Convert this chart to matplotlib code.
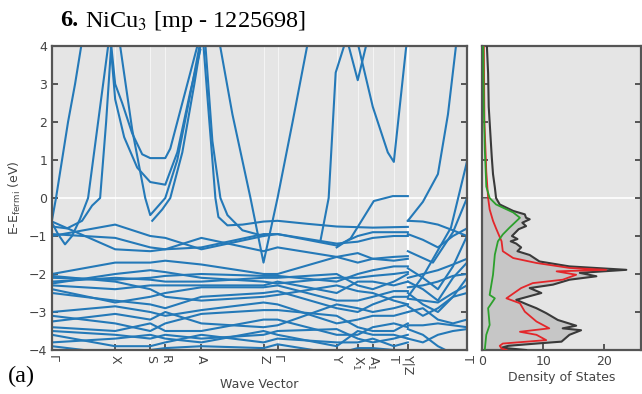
import numpy as np
import matplotlib
matplotlib.use('Agg')
import matplotlib.pyplot as plt

# high symmetry points along the k-path (path distance)
kpts = [0, 63, 98, 113, 149, 211, 225, 284, 305, 320, 341, 355, 414]
klabels = ['Γ', 'X', 'S', 'R', 'A', 'Z', 'Γ', 'Y', 'X$_1$', 'A$_1$', 'T', 'Y|Z', 'T']
kbreak = 355

# steep / upper bands, (k, E) pairs
upper_bands = [
    ([0, 4, 10, 16, 23, 31], [-0.58, 0, 1, 2, 3, 4.3]),
    ([0, 6, 13, 20, 28, 36, 46, 56, 60], [-0.65, -0.95, -1.22, -1.0, -0.55, 0, 2, 4, 4.6]),
    ([0, 15, 30, 40, 48, 54, 59, 62], [-0.75, -0.8, -0.6, -0.2, 0, 2, 4, 4.6]),
    ([64, 68, 80, 93, 98, 113, 125, 140, 150], [4.6, 4, 1.8, 0, -0.45, 0, 1.0, 3.0, 4.4]),
    ([58, 63, 70, 80, 90, 98, 113, 118, 130, 140, 148], [4.3, 3.0, 2.5, 1.7, 1.15, 1.05, 1.05, 1.3, 2.5, 3.5, 4.3]),
    ([57, 63, 72, 85, 98, 113, 125, 138, 148], [4.5, 2.6, 1.6, 0.8, 0.42, 0.35, 1.2, 2.8, 3.9]),
    ([100, 110, 118, 130, 142, 150], [-0.6, -0.3, 0, 1.2, 3.0, 4.3]),
    ([150, 157, 163, 166, 175, 190, 211, 225, 255, 284, 320, 355],
     [4.4, 2.0, 0, -0.5, -0.72, -0.7, -0.62, -0.6, -0.68, -0.75, -0.78, -0.76]),
    ([152, 160, 168, 175, 190, 211], [4.4, 1.5, 0, -0.45, -0.85, -1.0]),
    ([165, 180, 198, 211, 225, 240, 256], [4.4, 2.2, 0, -1.7, 0, 2, 4.2]),
    ([268, 276, 283, 295], [-1.1, 0, 3.3, 4.3]),
    ([293, 305, 316], [4.3, 3.1, 4.3]),
    ([303, 320, 335, 341, 353, 355], [4.3, 2.4, 1.2, 0.95, 3.9, 4.3]),
    ([284, 298, 321, 340, 355], [-1.3, -1.06, -0.08, 0.05, 0.05]),
    ([355, 370, 385, 395, 403], [-0.6, -0.1, 0.63, 2.2, 4.0]),
    ([355, 371, 398, 414], [-2.6, -2.02, -0.78, 0.96]),
    ([355, 380, 400, 414], [-1.4, -1.7, -0.9, 0.0]),
]

# valence bands at the high symmetry points, left part (Γ ... Y|Z)
kval_left = kpts[:12]
val_left = [
    [-0.62, -1.35, -1.4, -1.35, -1.3, -0.95, -0.95, -1.2, -1.15, -1.05, -1.0, -1.0],
    [-0.95, -1.05, -1.3, -1.35, -1.05, -1.4, -1.3, -1.55, -1.7, -1.6, -1.55, -1.53],
    [-1.0, -0.7, -1.0, -1.05, -1.35, -1.0, -0.95, -1.25, -1.0, -0.9, -0.9, -0.9],
    [-2.0, -1.7, -1.7, -1.65, -1.75, -2.0, -2.0, -1.55, -1.45, -1.6, -1.65, -1.6],
    [-2.05, -2.2, -2.4, -2.6, -2.7, -2.6, -2.55, -2.3, -2.45, -2.5, -2.7, -2.8],
    [-2.1, -2.15, -2.1, -2.05, -2.0, -2.05, -2.05, -2.2, -2.0, -1.9, -1.8, -1.8],
    [-2.2, -2.1, -2.15, -2.2, -2.2, -2.1, -2.1, -2.0, -2.3, -2.4, -2.2, -2.0],
    [-2.25, -2.0, -1.9, -1.95, -2.1, -2.2, -2.25, -2.1, -2.1, -2.05, -2.0, -1.95],
    [-2.3, -2.4, -2.3, -2.3, -2.3, -2.3, -2.2, -2.5, -2.2, -2.2, -2.3, -2.2],
    [-2.4, -2.75, -2.6, -2.5, -2.35, -2.35, -2.3, -2.7, -2.7, -2.6, -2.45, -2.45],
    [-2.5, -2.7, -2.8, -2.9, -2.6, -2.5, -2.45, -2.9, -3.0, -2.8, -2.6, -2.6],
    [-3.0, -2.85, -3.0, -3.1, -2.95, -2.75, -2.8, -3.3, -3.2, -3.1, -3.1, -3.0],
    [-3.1, -3.3, -3.5, -3.3, -3.05, -2.95, -2.95, -3.1, -3.4, -3.5, -3.5, -3.3],
    [-3.25, -3.05, -3.2, -3.0, -3.3, -3.4, -3.35, -2.8, -2.9, -3.0, -2.9, -2.8],
    [-3.4, -3.5, -3.3, -3.5, -3.5, -3.2, -3.2, -3.6, -3.6, -3.4, -3.3, -3.4],
    [-3.5, -3.6, -3.7, -3.6, -3.7, -3.6, -3.5, -3.45, -3.7, -3.8, -3.7, -3.6],
    [-3.6, -3.9, -3.9, -3.8, -3.6, -3.8, -3.7, -3.8, -3.8, -3.7, -3.9, -3.8],
    [-3.8, -3.7, -3.6, -3.7, -3.8, -3.5, -3.6, -3.9, -3.5, -3.6, -3.6, -3.7],
    [-3.9, -4.1, -4.0, -3.95, -3.9, -3.95, -3.85, -4.1, -3.95, -3.95, -4.0, -4.0],
]

# valence bands, right part (Z ... T)
kval_right = [355, 370, 385, 400, 414]
val_right = [
    [-0.6, -0.62, -0.7, -0.85, -1.0],
    [-0.95, -1.1, -1.3, -1.0, -0.8],
    [-1.85, -2.1, -2.4, -1.8, -1.0],
    [-2.1, -2.0, -1.9, -1.75, -1.6],
    [-2.2, -2.4, -2.7, -2.1, -1.7],
    [-2.35, -2.3, -2.2, -2.05, -2.0],
    [-2.5, -2.8, -3.0, -2.6, -2.1],
    [-2.65, -2.7, -2.75, -2.5, -2.3],
    [-2.85, -3.1, -2.9, -2.6, -2.5],
    [-3.0, -2.9, -3.2, -3.3, -3.2],
    [-3.35, -3.35, -3.3, -3.35, -3.4],
    [-3.45, -3.6, -3.9, -4.1, -4.2],
    [-3.7, -3.8, -3.6, -3.5, -3.45],
]

# density of states
dos_E = [4.0, 3.28, 2.4, 1.6, 1.07, 0.63, 0.28, 0.0, -0.17, -0.34, -0.43, -0.52, -0.56, -0.65,
         -0.74, -0.82, -1.0, -1.08, -1.14, -1.2, -1.3, -1.4, -1.5, -1.67, -1.8, -1.89, -1.97,
         -2.06, -2.15, -2.28, -2.37, -2.5, -2.68, -2.81, -2.9, -3.03, -3.21, -3.36, -3.43,
         -3.48, -3.6, -3.78, -3.83, -3.89, -3.94, -4.0]
dos_total = [0.8, 1.0, 1.1, 1.4, 1.6, 1.8, 2.1, 2.3, 2.9, 5.1, 7.0, 7.2, 7.8, 6.6, 7.2, 6.0,
             4.9, 5.8, 4.7, 5.6, 6.4, 5.8, 7.8, 9.4, 14.3, 23.6, 16.0, 18.7, 14.3, 11.6, 7.8,
             9.7, 5.6, 7.5, 8.9, 10.5, 12.4, 15.4, 13.2, 16.2, 14.3, 13.0, 8.9, 4.3, 3.2, 7.2]
red_E = [4.0, 2.0, 0.7, 0.0, -0.3, -0.6, -0.8, -1.14, -1.4, -1.58, -1.71, -1.84, -1.89, -1.93,
         -2.02, -2.15, -2.24, -2.37, -2.64, -2.77, -2.99, -3.25, -3.43, -3.52, -3.6, -3.74,
         -3.83, -3.89, -3.96, -4.0]
dos_red = [0.3, 0.4, 0.7, 1.0, 1.25, 1.8, 2.3, 3.2, 3.4, 5.1, 8.9, 14.3, 20.3, 12.2, 15.4,
           13.2, 8.3, 6.4, 4.0, 6.2, 7.0, 8.9, 11.0, 6.2, 8.9, 10.5, 3.4, 2.9, 3.2, 4.0]
green_E = [4.0, 2.4, 1.3, 0.3, 0.0, -0.17, -0.38, -0.52, -0.78, -0.96, -1.14, -1.49, -2.02,
           -2.55, -2.64, -2.9, -3.34, -3.6, -4.0]
dos_green = [0.2, 0.3, 0.45, 0.7, 1.25, 2.3, 5.1, 6.2, 4.5, 3.4, 2.6, 2.1, 1.8, 1.25, 2.1,
             1.0, 1.25, 0.7, 0.45]

band_color = '#2479b8'
bg = '#e5e5e5'
spine_c = '#555555'
text_c = '#444444'

fig = plt.figure(figsize=(6.42, 3.94), dpi=100)
ax = fig.add_axes([52 / 642, 1 - 350 / 394, 415 / 642, 304 / 394])
ax2 = fig.add_axes([482 / 642, 1 - 350 / 394, 159 / 642, 304 / 394])

for a in (ax, ax2):
    a.set_facecolor(bg)
    for s in a.spines.values():
        s.set_color(spine_c)
        s.set_linewidth(1.6)
    a.tick_params(direction='in', color=spine_c, width=1.4, length=4, labelcolor=text_c,
                  labelsize=9, top=False, right=True)

# gridlines
for k in kpts:
    ax.axvline(k, color='white', lw=0.8, alpha=0.6, zorder=1)
ax.axvline(kbreak, color='white', lw=1.6, zorder=1)
ax.axhline(0, color='white', lw=1.2, zorder=1)
ax2.axhline(0, color='white', lw=1.2, zorder=1)

for kk, ee in upper_bands:
    ax.plot(kk, ee, color=band_color, lw=1.5, zorder=2)
for ee in val_left:
    ax.plot(kval_left, ee, color=band_color, lw=1.5, zorder=2)
for ee in val_right:
    ax.plot(kval_right, ee, color=band_color, lw=1.5, zorder=2)

ax.set_xlim(0, 414)
ax.set_ylim(-4, 4)
ax.set_xticks(kpts)
ax.set_xticklabels(klabels, rotation=-90)
ax.set_yticks(range(-4, 5))
ax.set_xlabel('Wave Vector', color=text_c, fontsize=9, labelpad=2)
ax.set_ylabel('E-E$_{\\mathrm{fermi}}$ (eV)', color=text_c, fontsize=9, labelpad=4)

dE = np.array(dos_E)
dt = np.array(dos_total)
ax2.fill_betweenx(dE, 0, dt, where=dE <= 0.001, color='#c6c6c6', zorder=2, lw=0)
ax2.plot(dos_total, dos_E, color='#3a3a3a', lw=1.5, zorder=3)
ax2.plot(dos_red, red_E, color='#e3262a', lw=1.3, zorder=4)
ax2.plot(dos_green, green_E, color='#2ca02c', lw=1.3, zorder=5)
ax2.set_xlim(0, 26)
ax2.set_ylim(-4, 4)
ax2.set_xticks([0, 10, 20])
ax2.set_yticks(range(-4, 5))
ax2.set_yticklabels([])
ax2.set_xlabel('Density of States', color=text_c, fontsize=9, labelpad=2)

fig.text(60 / 642, 1 - 21 / 394, '6.', fontsize=17.5, fontweight='bold', family='Liberation Serif',
         va='center', ha='left')
fig.text(85 / 642, 1 - 21 / 394, 'NiCu$_3$ [mp - 1225698]', fontsize=17.5, family='Liberation Serif',
         va='center', ha='left', math_fontfamily='stix')
fig.text(8 / 642, 1 - 376 / 394, '(a)', fontsize=17.5, family='Liberation Serif', va='center', ha='left')

fig.savefig('out.png', dpi=100)
